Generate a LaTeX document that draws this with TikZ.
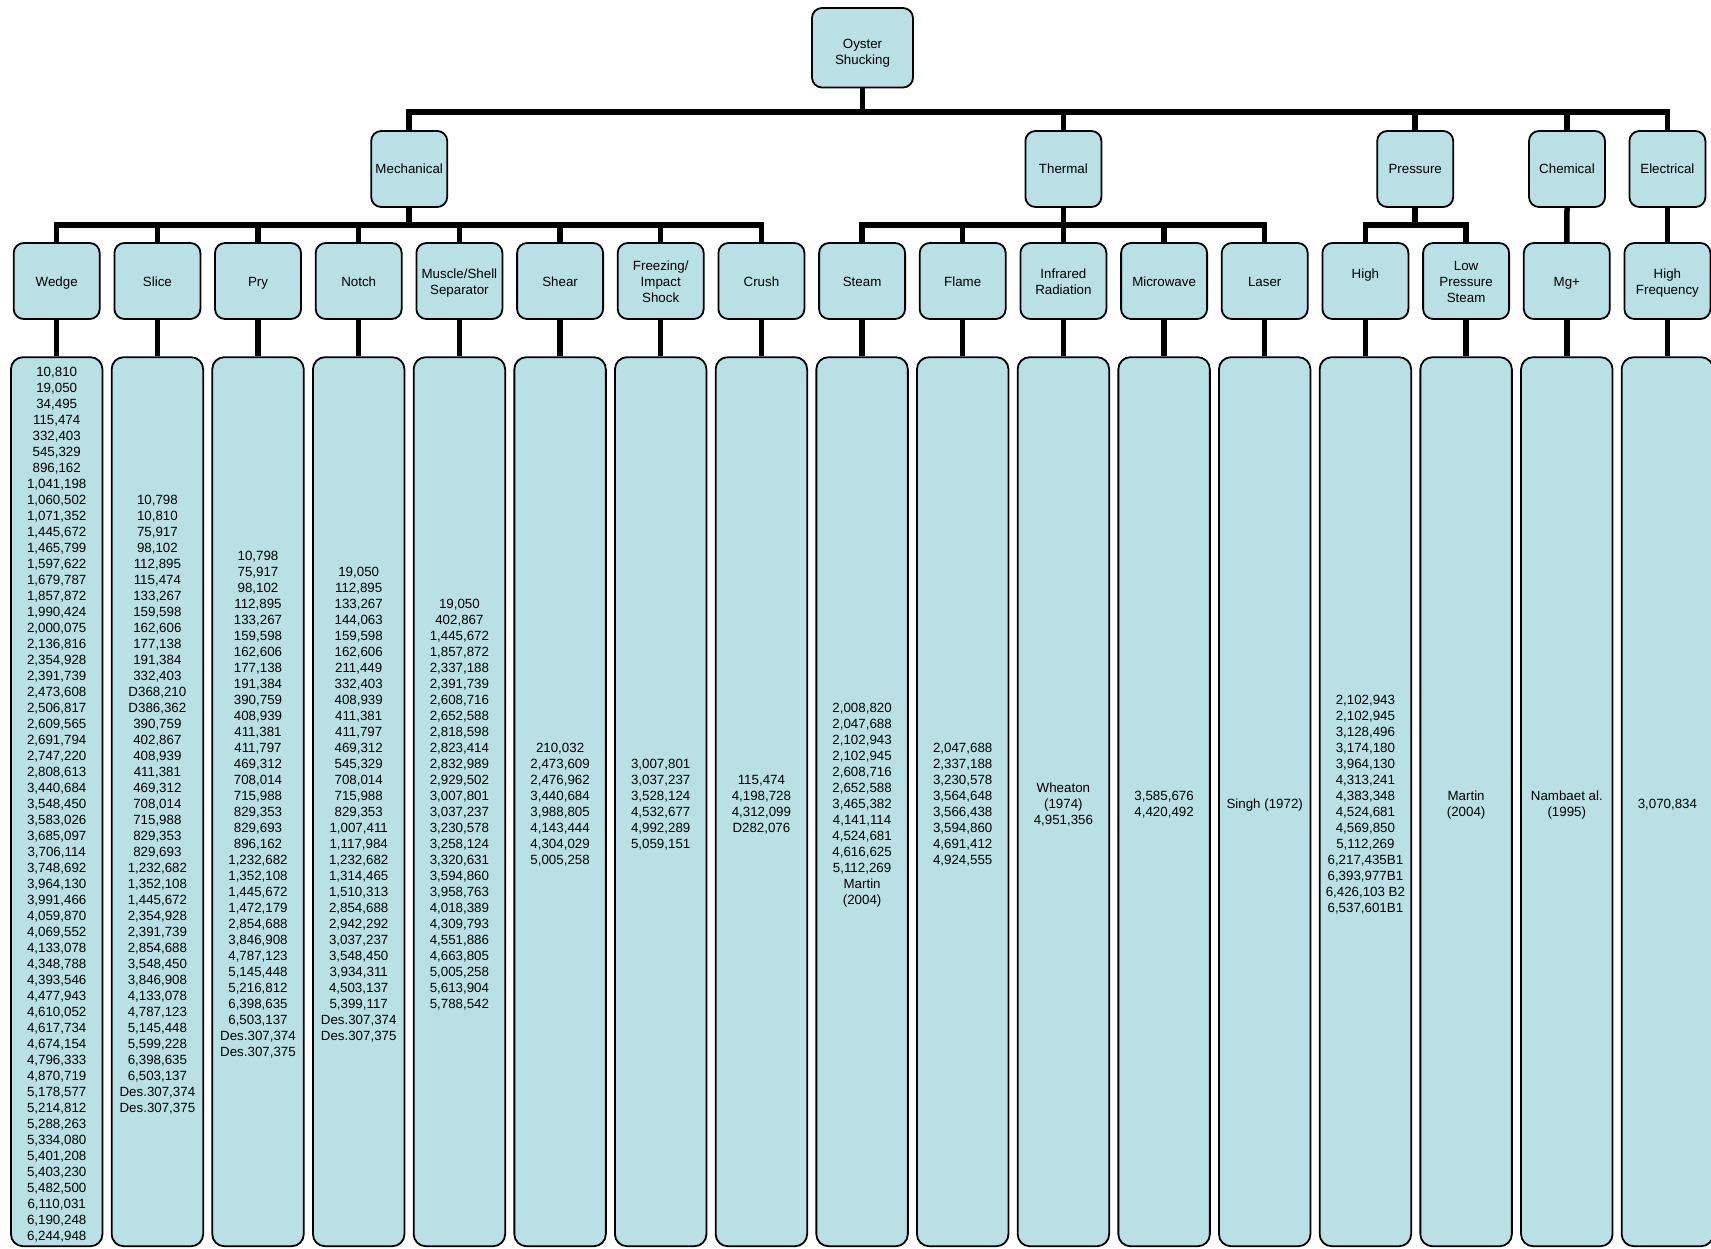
\documentclass[tikz,border=0pt]{standalone}
\usepackage{fontspec}
\setmainfont{Liberation Sans}
\definecolor{boxfill}{RGB}{185,224,228}
\newcommand{\roottop}{\rule{0pt}{20.5pt}}
\newcommand{\ltwotop}{\rule{0pt}{13.5pt}}
\newcommand{\datatop}{\rule{0pt}{15.7pt}}
\newcommand{\linebot}{\rule[-3pt]{0pt}{3pt}}
\tikzset{
  every node/.style={font=\fontsize{13.33}{16}\selectfont},
  box/.style={draw=black, line width=1.8pt, fill=boxfill, rounded corners=10pt, align=center, inner sep=0pt},
  topbox/.style={box, minimum width=101pt, minimum height=79.5pt},
  lonebox/.style={box, minimum width=76pt, minimum height=76pt},
  ltwobox/.style={box, minimum width=86pt, minimum height=76pt},
  databox/.style={box, minimum width=91.5pt, minimum height=889pt, rounded corners=12pt},
  conn/.style={line width=5.5pt},
}
\begin{document}
\begin{tikzpicture}[x=1pt,y=-1pt]
\useasboundingbox (0,0) rectangle (1711,1248);
\coordinate (barA) at (0,112);
\coordinate (barB) at (0,225);
% root and level 1
\node[topbox] (root) at (862.5,47.75) {\roottop Oyster\\Shucking\linebot};
\node[lonebox] (mech) at (409.2,169) {Mechanical};
\node[lonebox] (therm) at (1063.4,169) {Thermal};
\node[lonebox] (press) at (1415.2,169) {Pressure};
\node[lonebox] (chem) at (1567,169) {Chemical};
\node[lonebox] (elec) at (1667.4,169) {Electrical};
% level 2
\node[ltwobox] (wedge) at (56.7,281) {\ltwotop Wedge\linebot};
\node[ltwobox] (slice) at (157.4,281) {\ltwotop Slice\linebot};
\node[ltwobox] (pry) at (258.0,281) {\ltwotop Pry\linebot};
\node[ltwobox] (notch) at (358.7,281) {\ltwotop Notch\linebot};
\node[ltwobox] (muscle) at (459.4,281) {\ltwotop Muscle/Shell\\Separator\linebot};
\node[ltwobox] (shear) at (560.1,281) {\ltwotop Shear\linebot};
\node[ltwobox] (freeze) at (660.7,281) {\ltwotop Freezing/\\Impact\\Shock\linebot};
\node[ltwobox] (crush) at (761.4,281) {\ltwotop Crush\linebot};
\node[ltwobox] (steam) at (862.1,281) {\ltwotop Steam\linebot};
\node[ltwobox] (flame) at (962.7,281) {\ltwotop Flame\linebot};
\node[ltwobox] (infra) at (1063.4,281) {\ltwotop Infrared\\Radiation\linebot};
\node[ltwobox] (micro) at (1164.1,281) {\ltwotop Microwave\linebot};
\node[ltwobox] (laser) at (1264.7,281) {\ltwotop Laser\linebot};
\node[ltwobox] (high) at (1365.4,281) {\ltwotop High\\\linebot};
\node[ltwobox] (lowp) at (1466.1,281) {\ltwotop Low\\Pressure\\Steam\linebot};
\node[ltwobox] (mg) at (1566.8,281) {\ltwotop Mg+\linebot};
\node[ltwobox] (hfreq) at (1667.4,281) {\ltwotop High\\Frequency\linebot};
% connectors
\foreach \c in {mech,therm,press,chem,elec}
  \draw[conn] (root.south) -- (root.south |- barA) -| (\c.north);
\foreach \c in {wedge,slice,pry,notch,muscle,shear,freeze,crush}
  \draw[conn] (mech.south) -- (mech.south |- barB) -| (\c.north);
\foreach \c in {steam,flame,infra,micro,laser}
  \draw[conn] (therm.south) -- (therm.south |- barB) -| (\c.north);
\foreach \c in {high,lowp}
  \draw[conn] (press.south) -- (press.south |- barB) -| (\c.north);
\draw[conn] (chem.south) -- (mg.north);
\draw[conn] (elec.south) -- (hfreq.north);
% data boxes
\node[databox] (wedgeD) at (56.7,801.7) {\datatop 10,810\\19,050\\34,495\\115,474\\332,403\\545,329\\896,162\\1,041,198\\1,060,502\\1,071,352\\1,445,672\\1,465,799\\1,597,622\\1,679,787\\1,857,872\\1,990,424\\2,000,075\\2,136,816\\2,354,928\\2,391,739\\2,473,608\\2,506,817\\2,609,565\\2,691,794\\2,747,220\\2,808,613\\3,440,684\\3,548,450\\3,583,026\\3,685,097\\3,706,114\\3,748,692\\3,964,130\\3,991,466\\4,059,870\\4,069,552\\4,133,078\\4,348,788\\4,393,546\\4,477,943\\4,610,052\\4,617,734\\4,674,154\\4,796,333\\4,870,719\\5,178,577\\5,214,812\\5,288,263\\5,334,080\\5,401,208\\5,403,230\\5,482,500\\6,110,031\\6,190,248\\6,244,948\linebot};
\node[databox] (sliceD) at (157.4,801.7) {\datatop 10,798\\10,810\\75,917\\98,102\\112,895\\115,474\\133,267\\159,598\\162,606\\177,138\\191,384\\332,403\\D368,210\\D386,362\\390,759\\402,867\\408,939\\411,381\\469,312\\708,014\\715,988\\829,353\\829,693\\1,232,682\\1,352,108\\1,445,672\\2,354,928\\2,391,739\\2,854,688\\3,548,450\\3,846,908\\4,133,078\\4,787,123\\5,145,448\\5,599,228\\6,398,635\\6,503,137\\Des.307,374\\Des.307,375\linebot};
\node[databox] (pryD) at (258.0,801.7) {\datatop 10,798\\75,917\\98,102\\112,895\\133,267\\159,598\\162,606\\177,138\\191,384\\390,759\\408,939\\411,381\\411,797\\469,312\\708,014\\715,988\\829,353\\829,693\\896,162\\1,232,682\\1,352,108\\1,445,672\\1,472,179\\2,854,688\\3,846,908\\4,787,123\\5,145,448\\5,216,812\\6,398,635\\6,503,137\\Des.307,374\\Des.307,375\linebot};
\node[databox] (notchD) at (358.7,801.7) {\datatop 19,050\\112,895\\133,267\\144,063\\159,598\\162,606\\211,449\\332,403\\408,939\\411,381\\411,797\\469,312\\545,329\\708,014\\715,988\\829,353\\1,007,411\\1,117,984\\1,232,682\\1,314,465\\1,510,313\\2,854,688\\2,942,292\\3,037,237\\3,548,450\\3,934,311\\4,503,137\\5,399,117\\Des.307,374\\Des.307,375\linebot};
\node[databox] (muscleD) at (459.4,801.7) {\datatop 19,050\\402,867\\1,445,672\\1,857,872\\2,337,188\\2,391,739\\2,608,716\\2,652,588\\2,818,598\\2,823,414\\2,832,989\\2,929,502\\3,007,801\\3,037,237\\3,230,578\\3,258,124\\3,320,631\\3,594,860\\3,958,763\\4,018,389\\4,309,793\\4,551,886\\4,663,805\\5,005,258\\5,613,904\\5,788,542\linebot};
\node[databox] (shearD) at (560.1,801.7) {\datatop 210,032\\2,473,609\\2,476,962\\3,440,684\\3,988,805\\4,143,444\\4,304,029\\5,005,258\linebot};
\node[databox] (freezeD) at (660.7,801.7) {\datatop 3,007,801\\3,037,237\\3,528,124\\4,532,677\\4,992,289\\5,059,151\linebot};
\node[databox] (crushD) at (761.4,801.7) {\datatop 115,474\\4,198,728\\4,312,099\\D282,076\linebot};
\node[databox] (steamD) at (862.1,801.7) {\datatop 2,008,820\\2,047,688\\2,102,943\\2,102,945\\2,608,716\\2,652,588\\3,465,382\\4,141,114\\4,524,681\\4,616,625\\5,112,269\\Martin\\(2004)\linebot};
\node[databox] (flameD) at (962.7,801.7) {\datatop 2,047,688\\2,337,188\\3,230,578\\3,564,648\\3,566,438\\3,594,860\\4,691,412\\4,924,555\linebot};
\node[databox] (infraD) at (1063.4,801.7) {\datatop Wheaton\\(1974)\\4,951,356\linebot};
\node[databox] (microD) at (1164.1,801.7) {\datatop 3,585,676\\4,420,492\linebot};
\node[databox] (laserD) at (1264.7,801.7) {\datatop Singh (1972)\linebot};
\node[databox] (highD) at (1365.4,801.7) {\datatop 2,102,943\\2,102,945\\3,128,496\\3,174,180\\3,964,130\\4,313,241\\4,383,348\\4,524,681\\4,569,850\\5,112,269\\6,217,435B1\\6,393,977B1\\6,426,103 B2\\6,537,601B1\linebot};
\node[databox] (lowpD) at (1466.1,801.7) {\datatop Martin\\(2004)\linebot};
\node[databox] (mgD) at (1566.8,801.7) {\datatop Nambaet al.\\(1995)\linebot};
\node[databox] (hfreqD) at (1667.4,801.7) {\datatop 3,070,834\linebot};
\foreach \c in {wedge,slice,pry,notch,muscle,shear,freeze,crush,steam,flame,infra,micro,laser,high,lowp,mg,hfreq}
  \draw[conn] (\c.south) -- (\c D.north);
\end{tikzpicture}
\end{document}
